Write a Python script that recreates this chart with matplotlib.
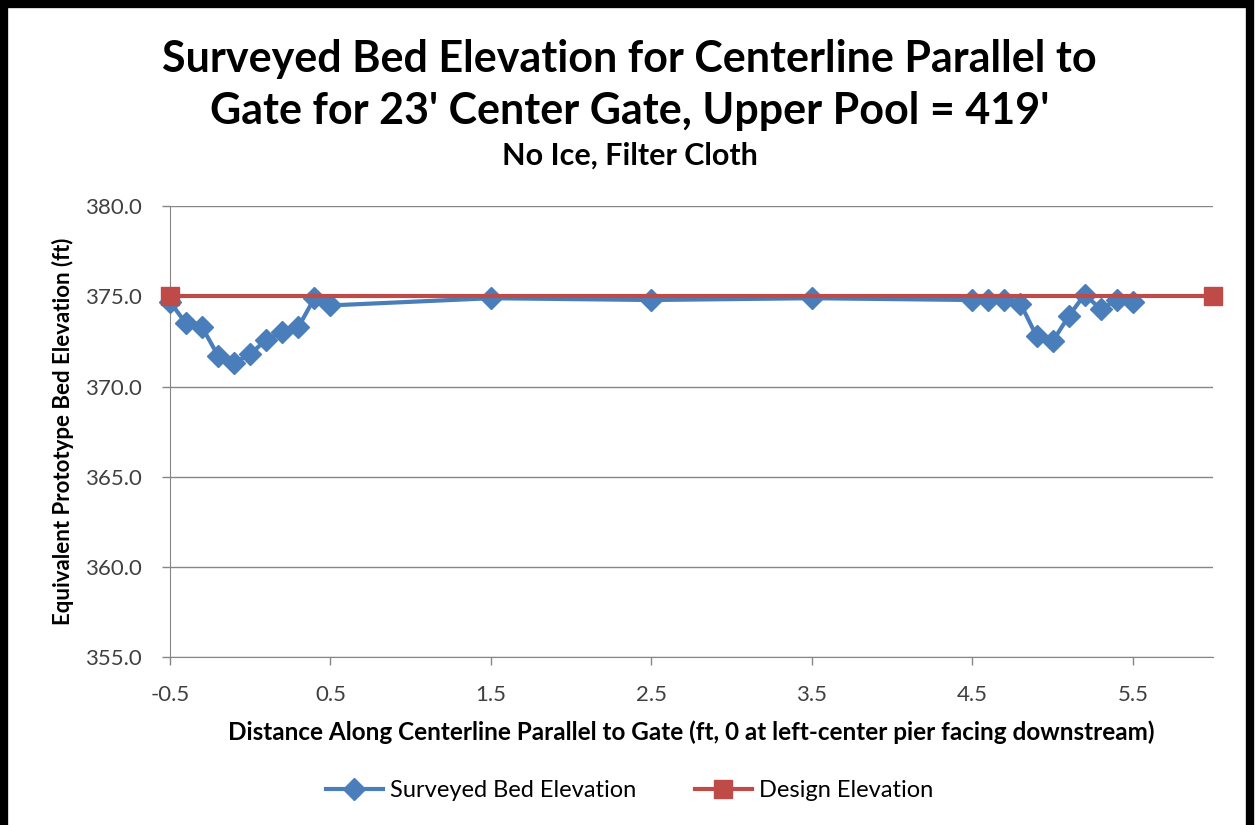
import matplotlib
matplotlib.use("Agg")
import matplotlib.pyplot as plt
from matplotlib.patches import Rectangle

# data
dist_surveyed = [-0.5, -0.4, -0.3, -0.2, -0.1, 0.0, 0.1, 0.2, 0.3, 0.4, 0.5,
                 1.5, 2.5, 3.5, 4.5, 4.6, 4.7, 4.8, 4.9, 5.0, 5.1, 5.2, 5.3, 5.4, 5.5]
elev_surveyed = [374.7, 373.5, 373.3, 371.7, 371.3, 371.8, 372.6, 373.0, 373.3, 374.9, 374.5,
                 374.9, 374.8, 374.9, 374.8, 374.8, 374.8, 374.6, 372.8, 372.5, 373.9, 375.1, 374.3, 374.8, 374.7]
dist_design = [-0.5, 6.0]
elev_design = [375.0, 375.0]
x_ticks = [-0.5, 0.5, 1.5, 2.5, 3.5, 4.5, 5.5]
y_ticks = [355.0, 360.0, 365.0, 370.0, 375.0, 380.0]

plt.rcParams['font.family'] = ['Lato', 'DejaVu Sans']

fig = plt.figure(figsize=(12.59, 8.25), dpi=100)
ax = fig.add_axes([0.135, 0.2036, 0.8285, 0.5464])

blue = '#4A7EBB'
red = '#BE4B48'

ax.plot(dist_surveyed, elev_surveyed, color=blue, lw=3, marker='D', ms=11,
        label='Surveyed Bed Elevation', zorder=3, clip_on=False)
ax.plot(dist_design, elev_design, color=red, lw=3, marker='s', ms=13,
        label='Design Elevation', zorder=4, clip_on=False)

ax.set_xlim(-0.5, 6.0)
ax.set_ylim(355, 380)
ax.set_xticks(x_ticks)
ax.set_xticklabels([f'{v:.1f}' for v in x_ticks])
ax.set_yticks(y_ticks)
ax.set_yticklabels([f'{v:.1f}' for v in y_ticks])
ax.tick_params(labelsize=16, colors='#404040', length=6, width=1)
ax.tick_params(axis='both', color='#868686')
ax.tick_params(axis='y', pad=14)
ax.tick_params(axis='x', pad=14)
ax.grid(axis='y', color='#868686', lw=1)
ax.set_axisbelow(True)
for s in ['top', 'right']:
    ax.spines[s].set_visible(False)
for s in ['left', 'bottom']:
    ax.spines[s].set_color('#868686')

ax.set_xlabel('Distance Along Centerline Parallel to Gate (ft, 0 at left-center pier facing downstream)',
              fontsize=17.5, fontweight='bold', labelpad=11)
ax.set_ylabel('Equivalent Prototype Bed Elevation (ft)', fontsize=16, fontweight='bold', labelpad=8)

fig.text(0.5, 0.897, "Surveyed Bed Elevation for Centerline Parallel to\nGate for 23' Center Gate, Upper Pool = 419'",
         ha='center', va='center', fontsize=31, fontweight='bold', linespacing=1.35)
fig.text(0.5, 0.812, 'No Ice, Filter Cloth', ha='center', va='center', fontsize=22, fontweight='bold')

fig.legend(loc='center', bbox_to_anchor=(0.5, 0.042), ncol=2, frameon=False, fontsize=17,
           handlelength=2.4, handletextpad=0.3, columnspacing=2.5)

fig.patches.append(Rectangle((0.003, -0.1), 0.99, 1.095, transform=fig.transFigure,
                             fill=False, edgecolor='black', lw=6))

fig.savefig('out.png', dpi=100)
